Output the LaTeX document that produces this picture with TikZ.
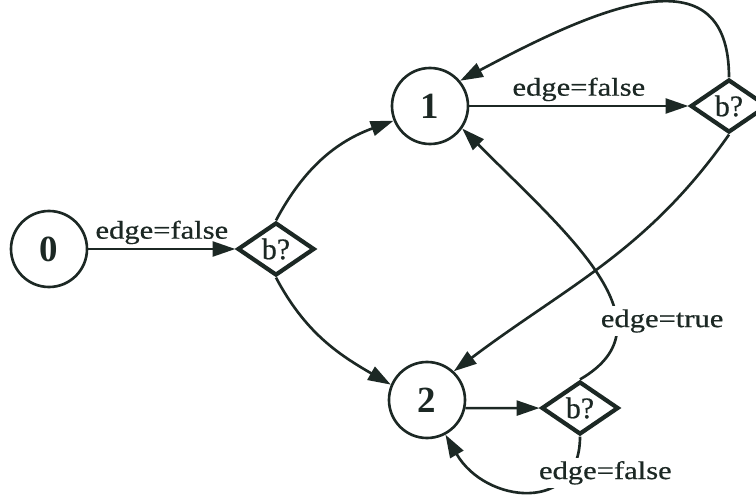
\documentclass[tikz,border=0pt]{standalone}
\usepackage{fontspec}
\setmainfont{Liberation Serif}
\newfontfamily\lblfont[FakeStretch=1.2,FakeBold=0.6]{Liberation Serif}
\newfontfamily\condfont[FakeBold=0.6]{Liberation Serif}
\usetikzlibrary{shapes.geometric,arrows.meta}
\definecolor{ink}{RGB}{28,40,36}
\tikzset{
  stnode/.style={circle,draw=ink,line width=1.5pt,minimum size=1.52cm,inner sep=0pt,
    text=ink,font=\fontsize{21}{24}\selectfont\bfseries},
  cond/.style={diamond,draw=ink,line width=2.4pt,minimum width=1.54cm,minimum height=1.06cm,
    inner sep=0pt,text=ink,font=\condfont\fontsize{17}{20}\selectfont},
  trans/.style={draw=ink,line width=1.5pt,-{Triangle[length=13pt,width=8.5pt]}},
  lbl/.style={text=ink,inner sep=2pt,font=\lblfont\fontsize{14.5}{16}\selectfont},
}
\begin{document}
\begin{tikzpicture}
\path[use as bounding box,clip] (0,0) rectangle (15.12,9.92);
\node[stnode] (s0) at (0.98,4.94) {0};
\node[cond] (c0) at (5.52,4.94) {b?};
\node[stnode] (s1) at (8.60,7.80) {1};
\node[cond] (c1) at (14.58,7.80) {b?};
\node[stnode] (s2) at (8.54,1.92) {2};
\node[cond] (c2) at (11.60,1.76) {b?};
\draw[trans] (s0) -- node[lbl,above] {edge=false} (c0);
\draw[trans] (c0.north) to[out=62,in=200] (s1.202);
\draw[trans] (c0.south) to[out=-62,in=150] (s2.157);
\draw[trans] (s1) -- node[lbl,above] {edge=false} (c1);
\draw[trans] (c1.north) .. controls +(90:2.6) and +(28:3) .. (s1.40);
\draw[trans] (c1.south) to[out=-125,in=37] (s2.47);
\draw[trans] (s2.-12) -- (c2);
\draw[trans] (c2.north) .. controls +(30:2.2) and +(-45:3) ..
  node[lbl,pos=0.3,xshift=0.91cm,fill=white] {edge=true} (s1.-35);
\draw[trans] (c2.south) .. controls +(-90:1.55) and +(-60:1.6) ..
  node[lbl,pos=0.2,xshift=0.71cm,fill=white] {edge=false} (s2.-62);
\end{tikzpicture}
\end{document}
